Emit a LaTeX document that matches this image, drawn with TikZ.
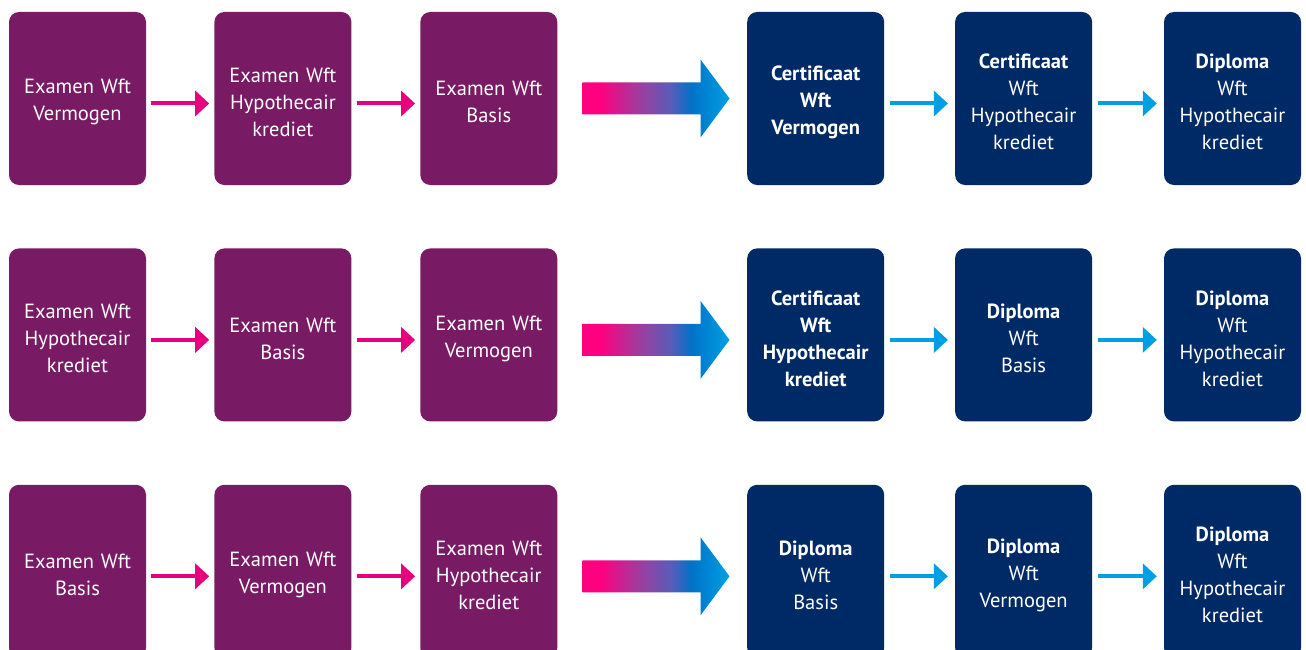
\documentclass[tikz,border=0pt]{standalone}
\usepackage{fontspec}
\setmainfont{PT Sans}
\usetikzlibrary{positioning,arrows.meta}

\definecolor{exampurple}{RGB}{120,26,100}
\definecolor{diplblue}{RGB}{0,42,102}
\definecolor{arrowpink}{RGB}{230,0,126}
\definecolor{arrowcyan}{RGB}{0,159,227}
\definecolor{gpink}{RGB}{255,0,128}
\definecolor{gpurple}{RGB}{154,63,160}
\definecolor{gviolet}{RGB}{90,92,184}
\definecolor{gblue}{RGB}{0,114,200}
\definecolor{gcyan}{RGB}{0,160,226}

\pgfdeclarehorizontalshading{wftshade}{100bp}{color(0bp)=(gpink); color(25bp)=(gpink);
  color(31bp)=(gpink); color(45bp)=(gpurple); color(55bp)=(gviolet);
  color(62bp)=(gblue); color(75bp)=(gcyan); color(100bp)=(gcyan)}

\begin{document}
\begin{tikzpicture}[x=1pt,y=-1pt,
        node distance=63pt and 68pt,
        box/.style={rectangle,rounded corners=10pt,minimum width=137pt,minimum height=173pt,
            inner sep=0pt,text width=134pt,align=center,text=white,
            font=\fontsize{20.5}{27}\selectfont,
            execute at begin node={\rule{0pt}{22pt}}},
        exam/.style={box,fill=exampurple},
        dipl/.style={box,fill=diplblue},
        pinkarrow/.style={draw=arrowpink,line width=4pt,shorten <=5pt,shorten >=5pt,
            -{Triangle[length=14pt,width=25pt]}},
        cyanarrow/.style={draw=arrowcyan,line width=4pt,shorten <=6pt,shorten >=7pt,
            -{Triangle[length=14pt,width=25pt]}},
        bigarrow/.style={shading=wftshade}]

    \useasboundingbox (0,0) rectangle (1306,650);
    \clip (0,0) rectangle (1306,650);

    % row 1
    \node[exam] (a1) at (77.5,98.5) {Examen Wft\\Vermogen};
    \node[exam,right=of a1] (a2) {Examen Wft\\Hypothecair\\krediet};
    \node[exam,right=68.5pt of a2] (a3) {Examen Wft\\Basis};
    \node[dipl,right=189.5pt of a3] (a4) {\bfseries Certificaat\\Wft\\Vermogen};
    \node[dipl,right=70.5pt of a4] (a5) {\textbf{Certificaat}\\Wft\\Hypothecair\\krediet};
    \node[dipl,right=71.5pt of a5] (a6) {\textbf{Diploma}\\Wft\\Hypothecair\\krediet};

    % row 2
    \node[exam,below=of a1] (b1) {Examen Wft\\Hypothecair\\krediet};
    \node[exam,right=of b1] (b2) {Examen Wft\\Basis};
    \node[exam,right=68.5pt of b2] (b3) {Examen Wft\\Vermogen};
    \node[dipl,right=189.5pt of b3] (b4) {\bfseries Certificaat\\Wft\\Hypothecair\\krediet};
    \node[dipl,right=70.5pt of b4] (b5) {\textbf{Diploma}\\Wft\\Basis};
    \node[dipl,right=71.5pt of b5] (b6) {\textbf{Diploma}\\Wft\\Hypothecair\\krediet};

    % row 3
    \node[exam,below=of b1] (c1) {Examen Wft\\Basis};
    \node[exam,right=of c1] (c2) {Examen Wft\\Vermogen};
    \node[exam,right=68.5pt of c2] (c3) {Examen Wft\\Hypothecair\\krediet};
    \node[dipl,right=189.5pt of c3] (c4) {\textbf{Diploma}\\Wft\\Basis};
    \node[dipl,right=70.5pt of c4] (c5) {\textbf{Diploma}\\Wft\\Vermogen};
    \node[dipl,right=71.5pt of c5] (c6) {\textbf{Diploma}\\Wft\\Hypothecair\\krediet};

    % small arrows
    \foreach \r in {a,b,c}{
        \draw[pinkarrow] ([yshift=-5pt]\r1.east) -- ([yshift=-5pt]\r2.west);
        \draw[pinkarrow] ([yshift=-5pt]\r2.east) -- ([yshift=-5pt]\r3.west);
        \draw[cyanarrow] ([yshift=-5pt]\r4.east) -- ([yshift=-5pt]\r5.west);
        \draw[cyanarrow] ([yshift=-5pt]\r5.east) -- ([yshift=-5pt]\r6.west);
    }

    % big arrows
    \path[bigarrow] ([xshift=25pt]a3.east) ++(0,-16) -- ++(118,0) -- ++(0,-23)
        -- ++(29,39) -- ++(-29,39) -- ++(0,-23) -- ++(-118,0) -- cycle;
    \path[bigarrow] ([xshift=25pt,yshift=-5pt]b3.east) ++(0,-16) -- ++(118,0) -- ++(0,-23)
        -- ++(29,39) -- ++(-29,39) -- ++(0,-23) -- ++(-118,0) -- cycle;
    \path[bigarrow] ([xshift=25pt,yshift=-5pt]c3.east) ++(0,-16) -- ++(118,0) -- ++(0,-23)
        -- ++(29,39) -- ++(-29,39) -- ++(0,-23) -- ++(-118,0) -- cycle;
\end{tikzpicture}
\end{document}
